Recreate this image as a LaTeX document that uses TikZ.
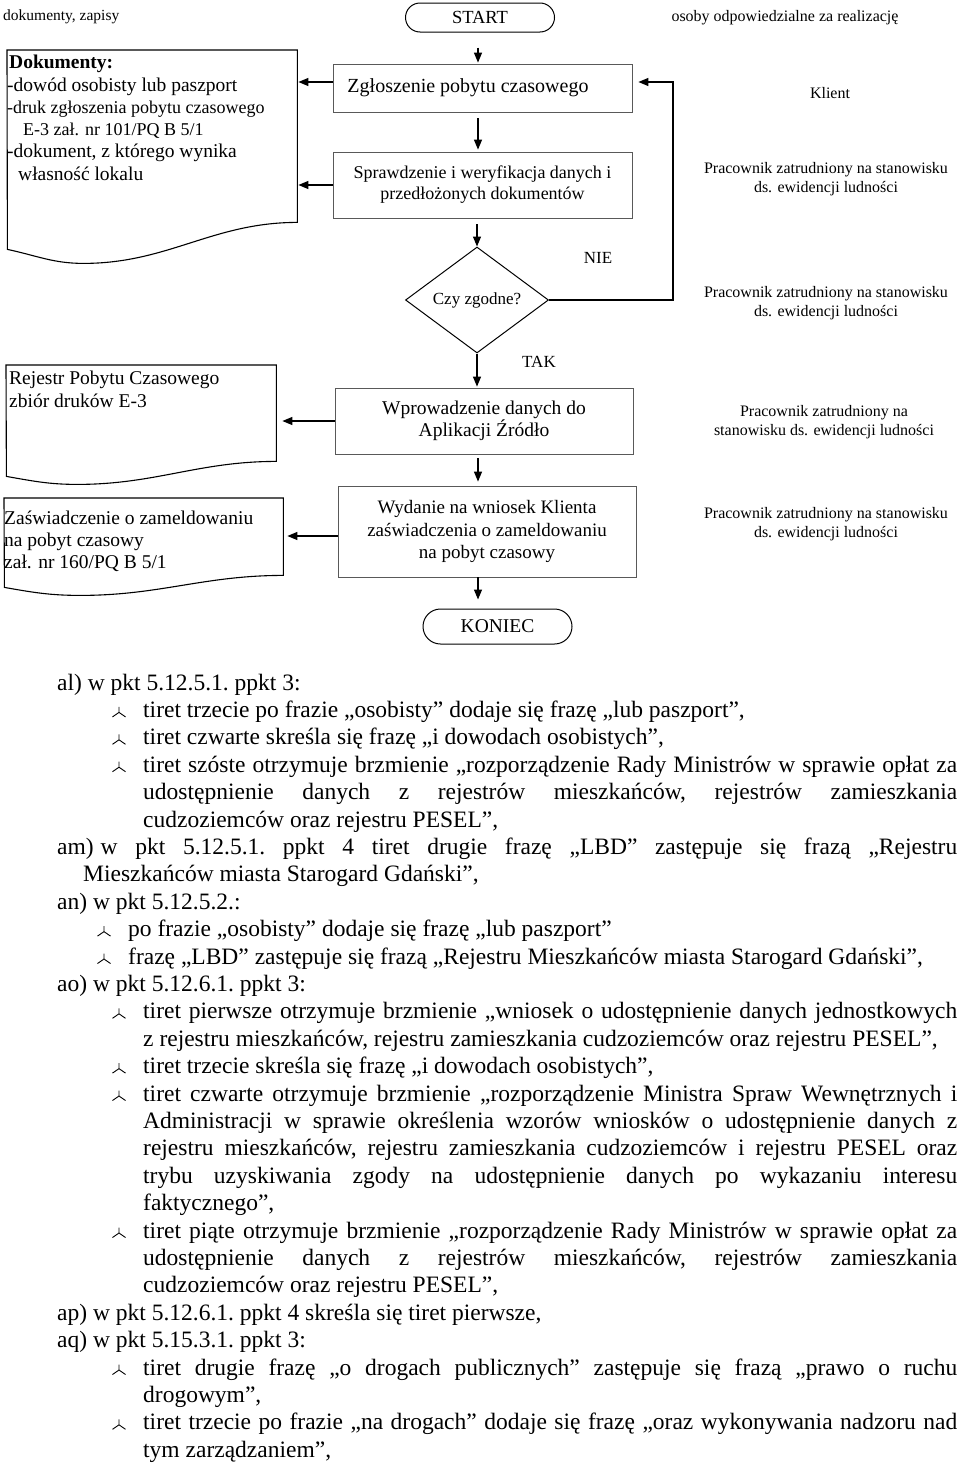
\documentclass[tikz,border=0pt]{standalone}
\usepackage{fontspec}
\setmainfont{Liberation Serif}
\usetikzlibrary{shapes.geometric,arrows.meta}

\newcommand\rowy[1]{690+27.4*#1}
\newcommand\jl[2]{\hbox to #1{#2}}
\newcommand\fs[2]{\fontsize{#1}{#2}\selectfont}

\tikzset{
	box/.style={draw=black!65,line width=0.8pt,inner sep=0pt,align=center},
	term/.style={draw,line width=1pt,inner sep=0pt},
	docarea/.style={inner sep=0pt,anchor=north west},
	docline/.style={draw,line width=1.1pt},
	arr/.style={-{Triangle[length=10pt,width=8pt]},line width=1.3pt},
	txt/.style={inner sep=0pt,anchor=base west},
	lab/.style={inner sep=0pt,align=center,font=\fs{16}{19}},
	body/.style={inner sep=0pt,anchor=base west,font=\fs{23.5}{27.4}\frenchspacing},
	tri/.pic={\draw[line width=0.9pt] (0,-5) -- (0,-10.5) (0,-5) -- (-6.5,-0.5) (0,-5) -- (6.5,-0.5);}
}

\begin{document}
\begin{tikzpicture}[x=1pt,y=-1pt]
	\path[fill=white,use as bounding box] (0,0) rectangle (960,1467);

	\node[txt,font=\fs{15.5}{18}] (hleft) at (3,20) {dokumenty, zapisy};
	\node[inner sep=0pt,anchor=base,font=\fs{16}{19}] (hright) at (785,21) {osoby odpowiedzialne za realizację};

	% flow
	\node[term,rounded corners=14.5pt,minimum width=149pt,minimum height=29pt,font=\fs{18.5}{21}] (start) at (480,17.5) {START};
	\node[box,minimum width=299pt,minimum height=48pt,font=\fs{20}{23}] (zgl) at (482.5,88) {Zgłoszenie pobytu czasowego\hspace*{29pt}};
	\node[box,minimum width=299pt,minimum height=66pt,font=\fs{18}{21}] (spr) at (482.5,185) {Sprawdzenie i weryfikacja danych i\\przedłożonych dokumentów};
	\node[draw,diamond,aspect=1.35,minimum width=143pt,minimum height=106pt,inner sep=0pt,line width=1pt,font=\fs{17}{20}] (dia) at (477,300) {Czy zgodne?};
	\node[box,minimum width=298pt,minimum height=66pt,font=\fs{19.5}{21.5}] (wpr) at (484,421) {Wprowadzenie danych do\\Aplikacji Źródło};
	\node[box,minimum width=298pt,minimum height=91pt,font=\fs{19}{22.5}] (wyd) at (487,531.5) {Wydanie na wniosek Klienta\\zaświadczenia o zameldowaniu\\na pobyt czasowy};
	\node[term,rounded corners=17.5pt,minimum width=149pt,minimum height=35pt,font=\fs{19.5}{22}] (kon) at (497.5,626.5) {KONIEC};

	\node[inner sep=0pt,font=\fs{17}{20}] (nie) at (598,258) {NIE};
	\node[inner sep=0pt,font=\fs{17}{20}] (tak) at (539,362) {TAK};

	\coordinate (flow) at (478,0);
	\coordinate (back) at (673,0);
	\draw[arr,shorten <=15pt,shorten >=1pt] (start.south -| flow) -- (zgl.north -| flow);
	\draw[arr,shorten <=6pt,shorten >=2pt] (zgl.south -| flow) -- (spr.north -| flow);
	\draw[arr,shorten <=6pt] (spr.south -| dia.north) -- (dia.north);
	\draw[arr,shorten >=1pt] (dia.south) -- (dia.south |- wpr.north);
	\draw[arr,shorten <=4pt,shorten >=4pt] (wpr.south -| flow) -- (wyd.north -| flow);
	\draw[arr,shorten >=9pt] (wyd.south -| flow) -- (kon.north -| flow);
	\coordinate (zr) at ([yshift=6pt]zgl.east);
	\draw[arr,shorten >=6pt] (dia.east) -- (dia.east -| back) |- (zr);

	% documents
	\node[docarea,minimum width=290pt,minimum height=172pt] (doc1) at (7,50) {};
	\draw[docline] (doc1.north west) -- (doc1.north east) -- (doc1.south east)
		to[out=180,in=0] ++(-214,41) to[out=180,in=-12] ++(-76,-14) -- cycle;
	\node[txt,font=\bfseries\fs{19.5}{22}] (d1a) at (9,68) {Dokumenty:};
	\node[txt,font=\fs{19.5}{22}] (d1b) at (7,91) {-dowód osobisty lub paszport};
	\node[txt,font=\fs{18}{21}] (d1c) at (7,113) {-druk zgłoszenia pobytu czasowego};
	\node[txt,font=\fs{18}{21}] (d1d) at (23,135) {E-3 zał. nr 101/PQ B 5/1};
	\node[txt,font=\fs{19.5}{22}] (d1e) at (7,157) {-dokument, z którego wynika};
	\node[txt,font=\fs{19.5}{22}] (d1f) at (18,180) {własność lokalu};

	\node[docarea,minimum width=270pt,minimum height=96pt] (rej) at (6,365) {};
	\draw[docline] (rej.north west) -- (rej.north east) -- (rej.south east)
		to[out=180,in=0] ++(-199,23) to[out=180,in=-10] ++(-71,-8) -- cycle;
	\node[txt,font=\fs{19.5}{22}] (rja) at (9,384) {Rejestr Pobytu Czasowego};
	\node[txt,font=\fs{19.5}{22}] (rjb) at (9,407) {zbiór druków E-3};

	\node[docarea,minimum width=279pt,minimum height=77pt] (zasw) at (4,498) {};
	\draw[docline] (zasw.north west) -- (zasw.north east) -- (zasw.south east)
		to[out=180,in=0] ++(-203,20) to[out=180,in=-10] ++(-76,-8) -- cycle;
	\node[txt,font=\fs{19.5}{22}] (zsa) at (4,524) {Zaświadczenie o zameldowaniu};
	\node[txt,font=\fs{19.5}{22}] (zsb) at (4,546) {na pobyt czasowy};
	\node[txt,font=\fs{19.5}{22}] (zsc) at (4,568) {zał. nr 160/PQ B 5/1};

	\coordinate (zl) at ([yshift=6pt]zgl.west);
	\draw[arr,shorten >=1pt] (zl) -- (zl -| doc1.east);
	\draw[arr,shorten >=1pt] (spr.west) -- (spr.west -| doc1.east);
	\draw[arr,shorten >=6pt] (wpr.west) -- (wpr.west -| rej.east);
	\coordinate (wl) at ([yshift=-4.5pt]wyd.west);
	\draw[arr,shorten >=4pt] (wl) -- (wl -| zasw.east);

	% osoby
	\node[lab] (klient) at (830,93) {Klient};
	\node[lab] (os1) at (826,179.5) {Pracownik zatrudniony na stanowisku\\ds. ewidencji ludności};
	\node[lab] (os2) at (826,303.5) {Pracownik zatrudniony na stanowisku\\ds. ewidencji ludności};
	\node[lab] (os3) at (824,422.5) {Pracownik zatrudniony na\\stanowisku ds. ewidencji ludności};
	\node[lab] (os4) at (826,524.5) {Pracownik zatrudniony na stanowisku\\ds. ewidencji ludności};

	% tekst
	\node[body] (l0) at (57,{\rowy{0}}) {al) w pkt 5.12.5.1. ppkt 3:};
	\pic at (119,{\rowy{1}}) {tri};
	\node[body] (l1) at (143,{\rowy{1}}) {tiret trzecie po frazie „osobisty” dodaje się frazę „lub paszport”,};
	\pic at (119,{\rowy{2}}) {tri};
	\node[body] (l2) at (143,{\rowy{2}}) {tiret czwarte skreśla się frazę „i dowodach osobistych”,};
	\pic at (119,{\rowy{3}}) {tri};
	\node[body] (l3) at (143,{\rowy{3}}) {\jl{814pt}{tiret szóste otrzymuje brzmienie „rozporządzenie Rady Ministrów w sprawie opłat za}};
	\node[body] (l4) at (143,{\rowy{4}}) {\jl{814pt}{udostępnienie danych z rejestrów mieszkańców, rejestrów zamieszkania}};
	\node[body] (l5) at (143,{\rowy{5}}) {cudzoziemców oraz rejestru PESEL”,};
	\node[body] (l6) at (57,{\rowy{6}}) {\jl{900pt}{am)\kern7pt w pkt 5.12.5.1. ppkt 4 tiret drugie frazę „LBD” zastępuje się frazą „Rejestru}};
	\node[body] (l7) at (83,{\rowy{7}}) {Mieszkańców miasta Starogard Gdański”,};
	\node[body] (l8) at (57,{\rowy{8}}) {an) w pkt 5.12.5.2.:};
	\pic at (104,{\rowy{9}}) {tri};
	\node[body] (l9) at (128,{\rowy{9}}) {po frazie „osobisty” dodaje się frazę „lub paszport”};
	\pic at (104,{\rowy{10}}) {tri};
	\node[body] (l10) at (128,{\rowy{10}}) {frazę „LBD” zastępuje się frazą „Rejestru Mieszkańców miasta Starogard Gdański”,};
	\node[body] (l11) at (57,{\rowy{11}}) {ao) w pkt 5.12.6.1. ppkt 3:};
	\pic at (119,{\rowy{12}}) {tri};
	\node[body] (l12) at (143,{\rowy{12}}) {\jl{814pt}{tiret pierwsze otrzymuje brzmienie „wniosek o udostępnienie danych jednostkowych}};
	\node[body] (l13) at (143,{\rowy{13}}) {z rejestru mieszkańców, rejestru zamieszkania cudzoziemców oraz rejestru PESEL”,};
	\pic at (119,{\rowy{14}}) {tri};
	\node[body] (l14) at (143,{\rowy{14}}) {tiret trzecie skreśla się frazę „i dowodach osobistych”,};
	\pic at (119,{\rowy{15}}) {tri};
	\node[body] (l15) at (143,{\rowy{15}}) {\jl{814pt}{tiret czwarte otrzymuje brzmienie „rozporządzenie Ministra Spraw Wewnętrznych i}};
	\node[body] (l16) at (143,{\rowy{16}}) {\jl{814pt}{Administracji w sprawie określenia wzorów wniosków o udostępnienie danych z}};
	\node[body] (l17) at (143,{\rowy{17}}) {\jl{814pt}{rejestru mieszkańców, rejestru zamieszkania cudzoziemców i rejestru PESEL oraz}};
	\node[body] (l18) at (143,{\rowy{18}}) {\jl{814pt}{trybu uzyskiwania zgody na udostępnienie danych po wykazaniu interesu}};
	\node[body] (l19) at (143,{\rowy{19}}) {faktycznego”,};
	\pic at (119,{\rowy{20}}) {tri};
	\node[body] (l20) at (143,{\rowy{20}}) {\jl{814pt}{tiret piąte otrzymuje brzmienie „rozporządzenie Rady Ministrów w sprawie opłat za}};
	\node[body] (l21) at (143,{\rowy{21}}) {\jl{814pt}{udostępnienie danych z rejestrów mieszkańców, rejestrów zamieszkania}};
	\node[body] (l22) at (143,{\rowy{22}}) {cudzoziemców oraz rejestru PESEL”,};
	\node[body] (l23) at (57,{\rowy{23}}) {ap) w pkt 5.12.6.1. ppkt 4 skreśla się tiret pierwsze,};
	\node[body] (l24) at (57,{\rowy{24}}) {aq) w pkt 5.15.3.1. ppkt 3:};
	\pic at (119,{\rowy{25}}) {tri};
	\node[body] (l25) at (143,{\rowy{25}}) {\jl{814pt}{tiret drugie frazę „o drogach publicznych” zastępuje się frazą „prawo o ruchu}};
	\node[body] (l26) at (143,{\rowy{26}}) {drogowym”,};
	\pic at (119,{\rowy{27}}) {tri};
	\node[body] (l27) at (143,{\rowy{27}}) {\jl{814pt}{tiret trzecie po frazie „na drogach” dodaje się frazę „oraz wykonywania nadzoru nad}};
	\node[body] (l28) at (143,{\rowy{28}}) {tym zarządzaniem”,};
\end{tikzpicture}
\end{document}
